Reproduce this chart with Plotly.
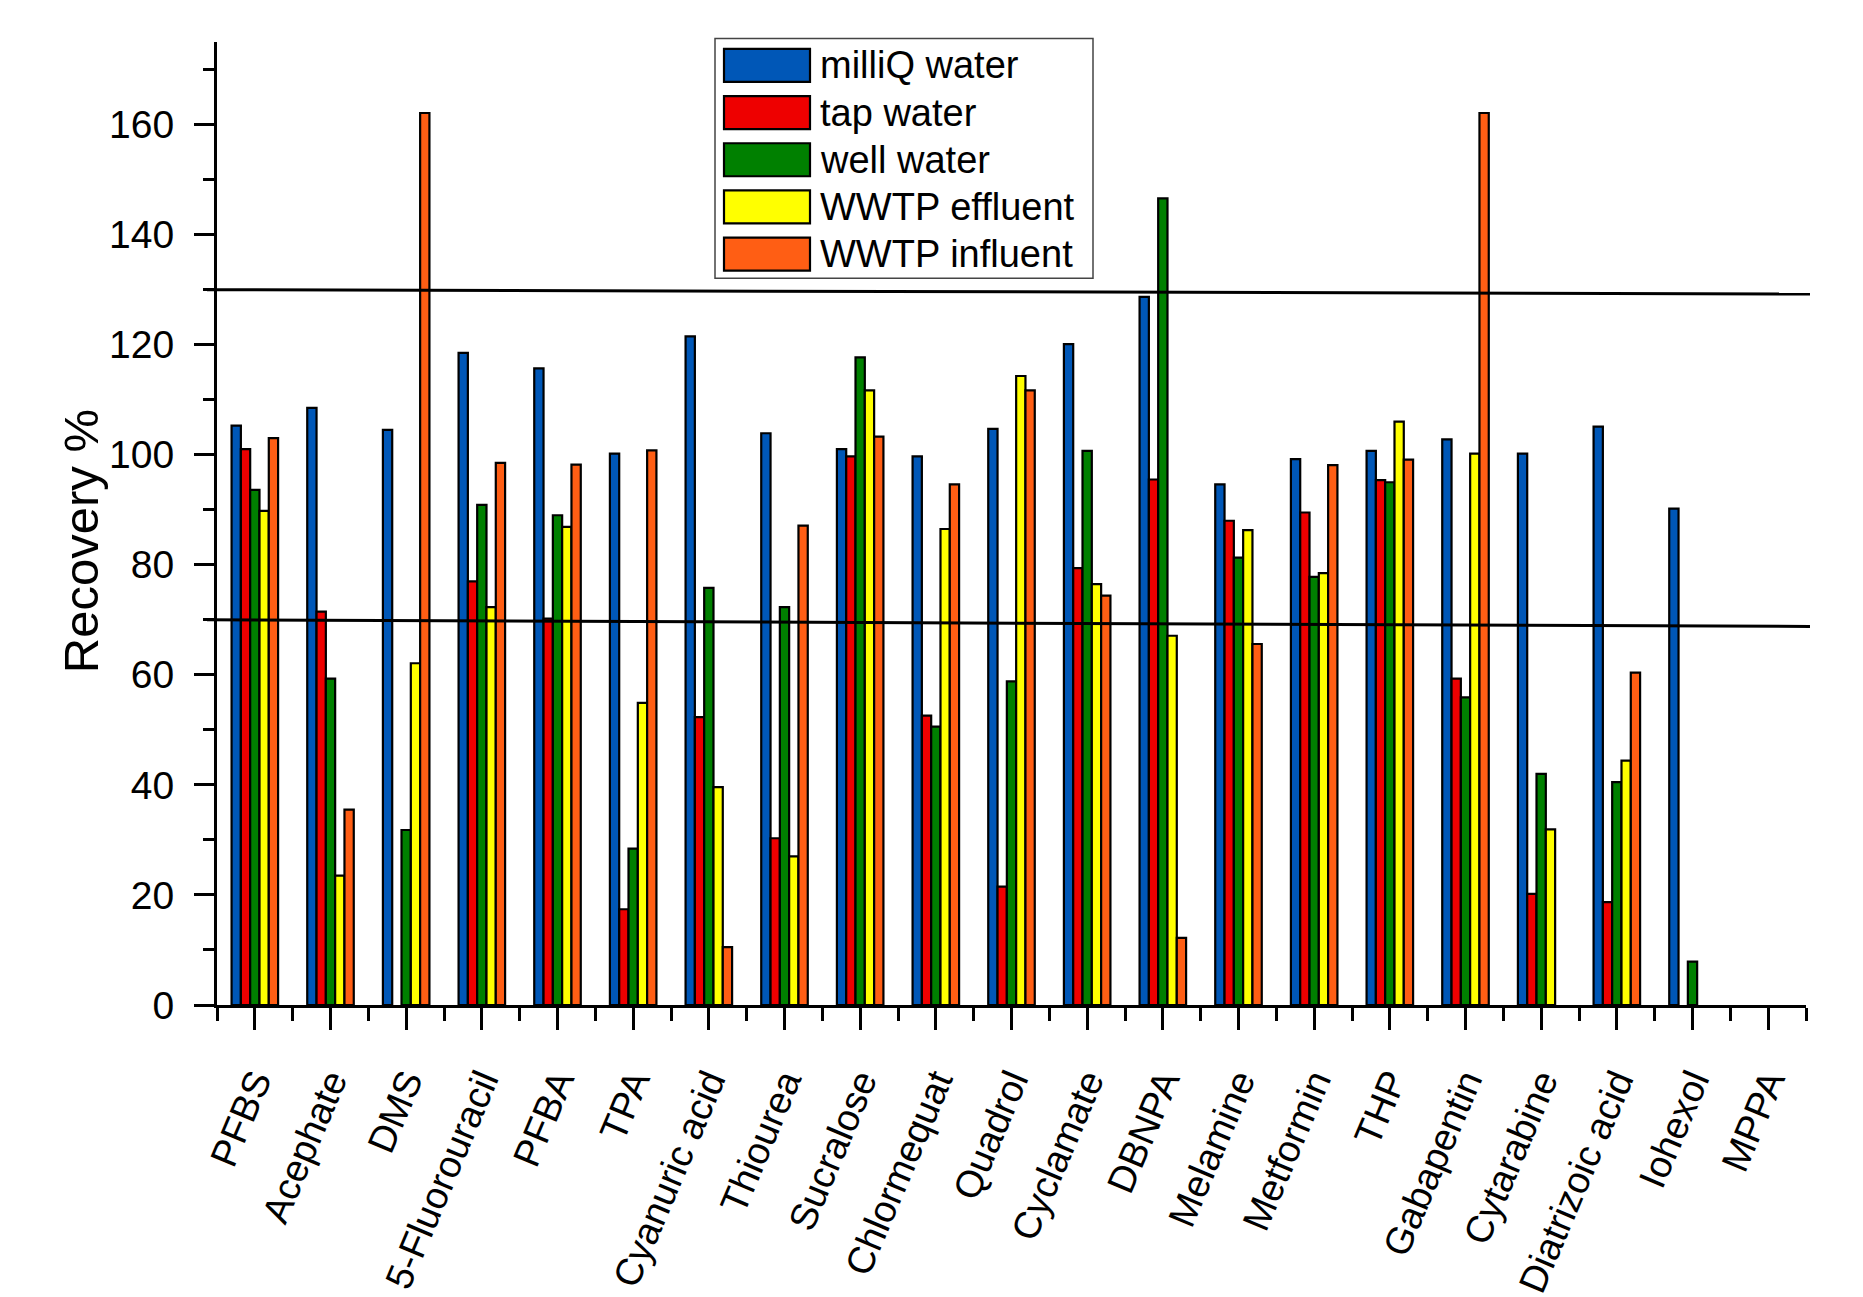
import plotly.graph_objects as go

categories = ["PFBS", "Acephate", "DMS", "5-Fluorouracil", "PFBA", "TPA", "Cyanuric acid",
              "Thiourea", "Sucralose", "Chlormequat", "Quadrol", "Cyclamate", "DBNPA",
              "Melamine", "Metformin", "THP", "Gabapentin", "Cytarabine", "Diatrizoic acid",
              "Iohexol", "MPPA"]

series_names = ["milliQ water", "tap water", "well water", "WWTP effluent", "WWTP influent"]

milliq = [105.3, 108.5, 104.5, 118.5, 115.7, 100.2, 121.5, 103.9, 101.0, 99.7, 104.7,
          120.1, 128.7, 94.6, 99.2, 100.7, 102.8, 100.2, 105.1, 90.2, None]
tap = [101.0, 71.5, None, 77.0, 70.2, 17.4, 52.3, 30.3, 99.7, 52.6, 21.5,
       79.4, 95.5, 88.0, 89.5, 95.4, 59.3, 20.2, 18.7, None, None]
well = [93.6, 59.3, 31.8, 90.9, 89.0, 28.4, 75.8, 72.3, 117.7, 50.6, 58.8,
        100.7, 146.6, 81.3, 77.8, 95.0, 55.9, 42.0, 40.5, 7.9, None]
effluent = [89.8, 23.5, 62.1, 72.3, 86.9, 54.9, 39.6, 27.0, 111.7, 86.5, 114.3,
            76.5, 67.1, 86.3, 78.5, 106.0, 100.2, 31.9, 44.4, None, None]
influent = [103.0, 35.5, 162.1, 98.5, 98.2, 100.8, 10.5, 87.1, 103.3, 94.6, 111.7,
            74.4, 12.2, 65.6, 98.1, 99.1, 162.1, None, 60.4, None, None]

series_values = [milliq, tap, well, effluent, influent]
colors = ["#0057B7", "#EE0000", "#008000", "#FFFF00", "#FF5E14"]

# acceptance limits (drawn slightly tilted as in the original)
upper_limit = [130.0, 129.2]
lower_limit = [70.0, 68.8]

FONT = "Liberation Sans, Arial, sans-serif"

# page body has an 8px margin; work in screen pixels and convert
OFF = 8
W, H = 1863 - OFF, 1297 - OFF
PL, PR, PT, PB = 217, 1806, 41.6, 1005   # plot area in screen px

x_pos = list(range(len(categories)))

fig = go.Figure()
for name, vals, col in zip(series_names, series_values, colors):
    fig.add_trace(go.Bar(
        x=x_pos, y=vals, name=name,
        marker=dict(color=col, line=dict(color="black", width=2.2)),
        showlegend=False,
    ))

fig.update_layout(
    width=W, height=H,
    paper_bgcolor="white", plot_bgcolor="white",
    margin=dict(l=PL - OFF, r=W - (PR - OFF), t=PT - OFF, b=H - (PB - OFF), autoexpand=False),
    barmode="group", bargap=0.385, bargroupgap=0.0,
    font=dict(family=FONT, color="black"),
    showlegend=False,
)

fig.update_xaxes(
    range=[-0.5, len(categories) - 0.5],
    tickmode="array", tickvals=x_pos, ticktext=categories,
    tickangle=-67,
    tickfont=dict(size=38, family=FONT, color="black"),
    ticks="outside", ticklen=22, tickwidth=2.5, tickcolor="black",
    ticklabelstandoff=14,
    minor=dict(tickmode="array",
               tickvals=[i - 0.5 for i in range(len(categories) + 1)],
               ticks="outside", ticklen=13, tickwidth=2.5, tickcolor="black"),
    showline=True, linecolor="black", linewidth=3,
    showgrid=False, zeroline=False,
)

fig.update_yaxes(
    range=[0, 175],
    tickmode="linear", tick0=0, dtick=20,
    tickfont=dict(size=39, family=FONT, color="black"),
    ticks="outside", ticklen=20, tickwidth=2.5, tickcolor="black",
    ticklabelstandoff=12,
    minor=dict(tickmode="linear", tick0=0, dtick=10,
               ticks="outside", ticklen=11, tickwidth=2.5, tickcolor="black"),
    showline=True, linecolor="black", linewidth=3,
    showgrid=False, zeroline=False,
)

def ax(xs):
    return (xs - PL) / (PR - PL)
def ay(ys):
    return (PB - ys) / (PB - PT)

# y-axis title
fig.add_annotation(xref="paper", yref="paper", x=ax(81), y=ay(541),
                   text="Recovery %", textangle=-90, showarrow=False,
                   xanchor="center", yanchor="middle",
                   font=dict(size=49, family=FONT, color="black"))

# limit lines
for lim in (upper_limit, lower_limit):
    fig.add_shape(type="line", xref="paper", yref="y",
                  x0=ax(207), x1=ax(1810), y0=lim[0], y1=lim[1],
                  line=dict(color="black", width=3), layer="above")

# custom legend with large swatches (as in the original)
fig.add_shape(type="rect", xref="paper", yref="paper",
              x0=ax(715), x1=ax(1093), y0=ay(278), y1=ay(38),
              line=dict(color="#444444", width=1.5), fillcolor="white", layer="above")
for i, (name, col) in enumerate(zip(series_names, colors)):
    top = 48.5 + i * 47.2
    fig.add_shape(type="rect", xref="paper", yref="paper",
                  x0=ax(724), x1=ax(810), y0=ay(top + 33), y1=ay(top),
                  line=dict(color="black", width=2.2), fillcolor=col, layer="above")
    fig.add_annotation(xref="paper", yref="paper", x=ax(818), y=ay(top + 16.5),
                       text=name, showarrow=False, xanchor="left", yanchor="middle",
                       font=dict(size=38, family=FONT, color="black"))

fig.write_html("out.html")
